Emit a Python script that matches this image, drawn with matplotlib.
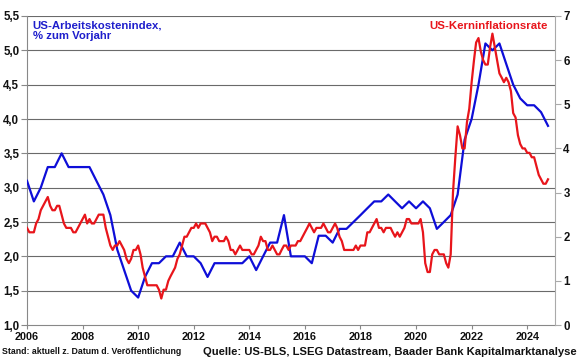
import matplotlib
matplotlib.use('Agg')
import matplotlib.pyplot as plt
from matplotlib.ticker import FuncFormatter
import numpy as np
import pandas as pd

plt.rcParams['font.family'] = ['Liberation Sans', 'DejaVu Sans']

# US Employment Cost Index, % y/y (quarterly, Q4 2005 .. Q3 2024) - left axis
eci = [3.1,
       2.8, 3.0, 3.3, 3.3,
       3.5, 3.3, 3.3, 3.3,
       3.3, 3.1, 2.9, 2.6,
       2.1, 1.8, 1.5, 1.4,
       1.7, 1.9, 1.9, 2.0,
       2.0, 2.2, 2.0, 2.0,
       1.9, 1.7, 1.9, 1.9,
       1.9, 1.9, 1.9, 2.0,
       1.8, 2.0, 2.2, 2.2,
       2.6, 2.0, 2.0, 2.0,
       1.9, 2.3, 2.3, 2.2,
       2.4, 2.4, 2.5, 2.6,
       2.7, 2.8, 2.8, 2.9,
       2.8, 2.7, 2.8, 2.7,
       2.8, 2.7, 2.4, 2.5,
       2.6, 2.9, 3.7, 4.0,
       4.5, 5.1, 5.0, 5.1,
       4.8, 4.5, 4.3, 4.2,
       4.2, 4.1, 3.9]

# US core inflation rate, % y/y (monthly, Dec 2005 .. Sep 2024) - right axis
cpi = [2.2,
       2.1, 2.1, 2.1, 2.3, 2.4, 2.6, 2.7, 2.8, 2.9, 2.7, 2.6, 2.6,   # 2006
       2.7, 2.7, 2.5, 2.3, 2.2, 2.2, 2.2, 2.1, 2.1, 2.2, 2.3, 2.4,   # 2007
       2.5, 2.3, 2.4, 2.3, 2.3, 2.4, 2.5, 2.5, 2.5, 2.2, 2.0, 1.8,   # 2008
       1.7, 1.8, 1.8, 1.9, 1.8, 1.7, 1.5, 1.4, 1.5, 1.7, 1.7, 1.8,   # 2009
       1.6, 1.3, 1.1, 0.9, 0.9, 0.9, 0.9, 0.9, 0.8, 0.6, 0.8, 0.8,   # 2010
       1.0, 1.1, 1.2, 1.3, 1.5, 1.6, 1.8, 2.0, 2.0, 2.1, 2.2, 2.2,   # 2011
       2.3, 2.2, 2.3, 2.3, 2.3, 2.2, 2.1, 1.9, 2.0, 2.0, 1.9, 1.9,   # 2012
       1.9, 2.0, 1.9, 1.7, 1.7, 1.6, 1.7, 1.8, 1.7, 1.7, 1.7, 1.7,   # 2013
       1.6, 1.6, 1.7, 1.8, 2.0, 1.9, 1.9, 1.7, 1.7, 1.8, 1.7, 1.6,   # 2014
       1.6, 1.7, 1.8, 1.8, 1.7, 1.8, 1.8, 1.8, 1.9, 1.9, 2.0, 2.1,   # 2015
       2.2, 2.3, 2.2, 2.1, 2.2, 2.2, 2.2, 2.3, 2.2, 2.1, 2.1, 2.2,   # 2016
       2.3, 2.2, 2.0, 1.9, 1.7, 1.7, 1.7, 1.7, 1.7, 1.8, 1.7, 1.8,   # 2017
       1.8, 1.8, 2.1, 2.1, 2.2, 2.3, 2.4, 2.2, 2.2, 2.1, 2.2, 2.2,   # 2018
       2.2, 2.1, 2.0, 2.1, 2.0, 2.1, 2.2, 2.4, 2.4, 2.3, 2.3, 2.3,   # 2019
       2.3, 2.4, 2.1, 1.4, 1.2, 1.2, 1.6, 1.7, 1.7, 1.6, 1.6, 1.6,   # 2020
       1.4, 1.3, 1.6, 3.0, 3.8, 4.5, 4.3, 4.0, 4.0, 4.6, 4.9, 5.5,   # 2021
       6.0, 6.4, 6.5, 6.2, 6.0, 5.9, 5.9, 6.3, 6.6, 6.3, 6.0, 5.7,   # 2022
       5.6, 5.5, 5.6, 5.5, 5.3, 4.8, 4.7, 4.3, 4.1, 4.0, 4.0, 3.9,   # 2023
       3.9, 3.8, 3.8, 3.6, 3.4, 3.3, 3.2, 3.2, 3.3]                  # 2024

eci_dates = pd.date_range('2005-12-31', periods=len(eci), freq='QE-DEC')
cpi_dates = pd.date_range('2005-12-31', periods=len(cpi), freq='ME')

def to_year(d):
    return d.year + (d.dayofyear) / (365.0 + d.is_leap_year)

eci_x = np.asarray(to_year(eci_dates))
cpi_x = np.asarray(to_year(cpi_dates))

year_ticks = list(range(2006, 2025, 2))
left_ticks = [1.0, 1.5, 2.0, 2.5, 3.0, 3.5, 4.0, 4.5, 5.0, 5.5]
right_ticks = [0, 1, 2, 3, 4, 5, 6, 7]

blue = '#0E0ED8'
red = '#E8151B'
grid_c = '#6a6a6a'

fig = plt.figure(figsize=(5.8, 3.59), dpi=100)
ax = fig.add_axes([27/580, 34/359, 528/580, 309/359])
ax2 = ax.twinx()

ax.set_xlim(2006, 2025)
ax.set_ylim(1.0, 5.5)
ax2.set_ylim(0, 7)

for y in left_ticks[1:]:
    ax.axhline(y, color=grid_c, lw=0.8, zorder=1)

ax.plot(eci_x, eci, color=blue, lw=1.6, zorder=3, solid_joinstyle='round')
ax2.plot(cpi_x, cpi, color=red, lw=1.6, zorder=3, solid_joinstyle='round')

ax.set_xticks(year_ticks)
ax.set_yticks(left_ticks)
ax2.set_yticks(right_ticks)
ax.yaxis.set_major_formatter(FuncFormatter(lambda v, p: f'{v:.1f}'.replace('.', ',')))
ax2.yaxis.set_major_formatter(FuncFormatter(lambda v, p: f'{int(v)}'))

for lab in ax.get_xticklabels():
    lab.set_fontsize(7.8)
    lab.set_fontweight('bold')
    lab.set_color('#111111')
for lab in ax.get_yticklabels() + ax2.get_yticklabels():
    lab.set_fontsize(8.3)
    lab.set_fontweight('bold')
    lab.set_color('#111111')

ax.tick_params(axis='y', direction='out', length=4, width=0.8, color='#888888', pad=1.5)
ax.tick_params(axis='x', direction='out', length=3, width=0.8, color='#888888', pad=2)
ax2.tick_params(axis='y', direction='out', length=4, width=0.8, color='#aaaaaa', pad=2)

for s in ['top']:
    ax.spines[s].set_visible(False)
    ax2.spines[s].set_visible(False)
ax.spines['left'].set_color('#888888')
ax.spines['bottom'].set_color('#888888')
ax.spines['right'].set_visible(False)
ax2.spines['left'].set_visible(False)
ax2.spines['bottom'].set_visible(False)
ax2.spines['right'].set_color('#aaaaaa')

ax.text(0.011, 0.985, 'US-Arbeitskostenindex,\n% zum Vorjahr', transform=ax.transAxes,
        ha='left', va='top', color='#1E1ECC', fontsize=8.2, fontweight='bold',
        linespacing=1.1, zorder=5)
ax.text(0.987, 0.985, 'US-Kerninflationsrate', transform=ax.transAxes,
        ha='right', va='top', color=red, fontsize=8.2, fontweight='bold', zorder=5)

fig.text(2/580, 1 - 352/359, 'Stand: aktuell z. Datum d. Veröffentlichung',
         ha='left', va='center', fontsize=6.3, fontweight='bold', color='#111111')
fig.text(577/580, 1 - 352/359, 'Quelle: US-BLS, LSEG Datastream, Baader Bank Kapitalmarktanalyse',
         ha='right', va='center', fontsize=8.1, fontweight='bold', color='#111111')

fig.savefig('out.png', dpi=100)
